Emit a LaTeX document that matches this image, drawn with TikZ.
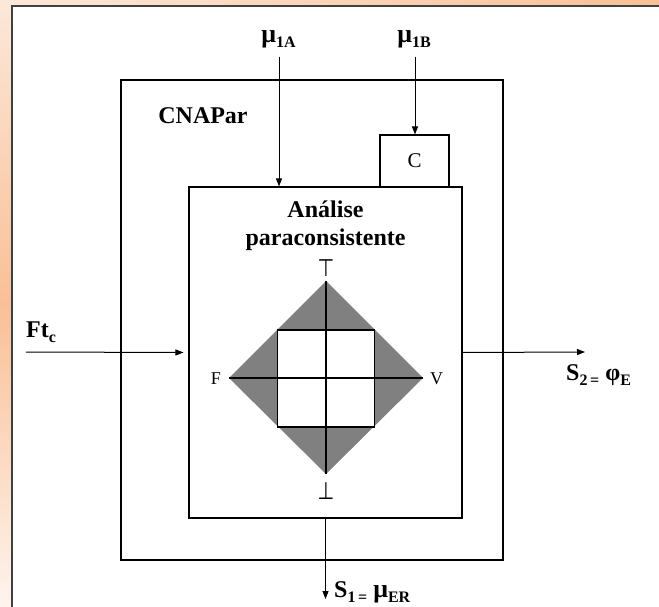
\documentclass[tikz,border=0pt]{standalone}
\usepackage{fontspec}
\setmainfont{Liberation Serif}
\newfontfamily\symfont{DejaVu Sans}
\usetikzlibrary{arrows.meta}
\definecolor{peachA}{RGB}{252,232,218}
\definecolor{peachB}{RGB}{249,192,150}
\definecolor{peachC}{RGB}{254,244,238}
\definecolor{diagray}{RGB}{128,128,128}
\definecolor{framegray}{RGB}{64,64,64}
\newcommand{\bigf}{\fontsize{24}{28}\selectfont}
\newcommand{\subf}[1]{\raisebox{-5pt}{\fontsize{16}{16}\selectfont\bfseries #1}}
\begin{document}
\begin{tikzpicture}[x=1pt,y=-1pt,
  box/.style={draw=black, line width=1.1pt, inner sep=0pt, fill=white},
  arr/.style={draw=black, line width=1pt, -{Triangle[length=8pt,width=6pt]}},
  lbl/.style={inner sep=0pt, font=\bigf\bfseries},
  small/.style={inner sep=0pt, font=\fontsize{18}{20}\selectfont},
  sym/.style={inner sep=0pt, font=\symfont\fontsize{24}{26}\selectfont}]
\useasboundingbox (0,0) rectangle (659,607);
% background
\shade[top color=peachA, bottom color=peachC, middle color=peachB] (0,0) rectangle (12,607);
\shade[left color=peachA, right color=peachB] (0,0) rectangle (659,6);
\fill[white] (12,6) rectangle (659,607);
\draw[framegray, line width=2.5pt] (12,609) -- (12,6) -- (661,6);
% boxes
\node[box, minimum width=382pt, minimum height=480pt] (cnapar) at (312,320) {};
\node[box, minimum width=273pt, minimum height=331pt] (inner) at (325.5,352.5) {};
\node[box, minimum width=69pt, minimum height=52pt] (cbox) at (414.5,161) {};
\node[small, font=\fontsize{21}{22}\selectfont] (clabel) at (cbox.center) {C};
% titles
\node[lbl, anchor=base] (cnaparlabel) at (203,124) {CNAPar};
\node[lbl, anchor=base] (an1) at (325.5,217) {Análise};
\node[lbl, anchor=base] (an2) at (325.5,245) {paraconsistente};
% diamond
\coordinate (dc) at (326,378);
\coordinate (dt) at (326,281);
\coordinate (db) at (326,474);
\coordinate (dl) at (229,378);
\coordinate (dr) at (423,378);
\fill[diagray] (dt) -- (dr) -- (db) -- (dl) -- cycle;
\draw[black, line width=1.1pt, fill=white] (277.5,330) rectangle (374.5,427);
\draw[black, line width=1.1pt] (dl) -- (dr);
\draw[black, line width=1.1pt] (dt) -- (db);
\node[sym] (top) at (326,268) {\scalebox{0.8}[1]{⊤}};
\node[sym] (bot) at (326,491) {\scalebox{0.8}[1]{⊥}};
\node[small, anchor=east] (F) at (221,379) {F};
\node[small, anchor=west] (V) at (430,379) {V};
% inputs
\node[lbl, anchor=base] (mu1a) at (278.5,43) {\fontsize{26}{28}\selectfont μ\subf{1A}};
\node[lbl, anchor=base] (mu1b) at (414,43) {\fontsize{26}{28}\selectfont μ\subf{1B}};
\draw[arr] ([yshift=-8pt]mu1a.south -| 279,0) -- (279,0 |- inner.north);
\draw[arr] ([yshift=-8pt]mu1b.south -| 415,0) -- (415,0 |- cbox.north);
\node[lbl, anchor=base west] (ftc) at (26,337) {Ft\subf{c}};
\coordinate (ftstart) at (26,352);
\draw[arr] (ftstart) -- ([xshift=-5pt]inner.west);
% outputs
\coordinate (s2end) at (585,352);
\draw[arr] (inner.east) -- (s2end);
\node[lbl, anchor=base west] (s2) at (566,380) {S\subf{2\,=}\hspace{6pt}φ\subf{E}};
\coordinate (s1end) at (325.5,599);
\draw[arr] (inner.south) -- (s1end);
\node[lbl, anchor=base west] (s1) at (334,597) {S\subf{1\,=}\hspace{6pt}{\fontsize{26}{28}\selectfont μ}\subf{ER}};
\end{tikzpicture}
\end{document}
